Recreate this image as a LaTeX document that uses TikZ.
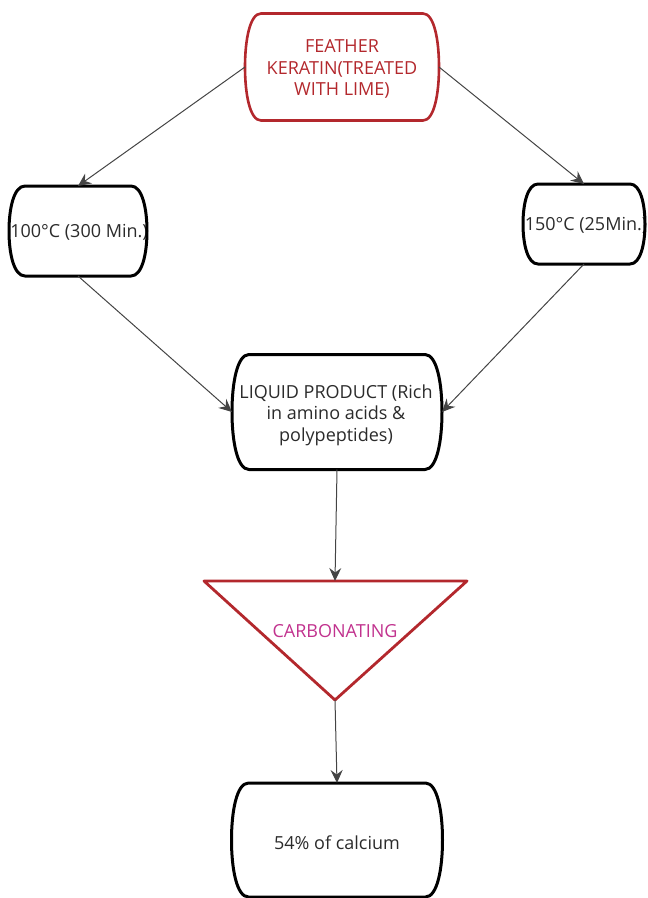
\documentclass[tikz,border=0pt]{standalone}
\usepackage{fontspec}
\setmainfont{Open Sans}
\usetikzlibrary{arrows.meta,calc}
\definecolor{kred}{HTML}{B3282D}
\definecolor{kmag}{HTML}{C1328E}
\definecolor{ktext}{HTML}{2B2B2B}
\definecolor{kline}{HTML}{444444}
\newcommand{\barrelshape}[3]{%
  \draw[#3] ([xshift=#2pt]#1.north west) -- ([xshift=-#2pt]#1.north east)
    .. controls ([xshift=-0.3*#2pt]#1.north east) and ($(#1.north east)!0.25!(#1.south east)$) .. (#1.east)
    .. controls ($(#1.north east)!0.75!(#1.south east)$) and ([xshift=-0.3*#2pt]#1.south east) .. ([xshift=-#2pt]#1.south east)
    -- ([xshift=#2pt]#1.south west)
    .. controls ([xshift=0.3*#2pt]#1.south west) and ($(#1.north west)!0.75!(#1.south west)$) .. (#1.west)
    .. controls ($(#1.north west)!0.25!(#1.south west)$) and ([xshift=0.3*#2pt]#1.north west) .. cycle;}
\tikzset{
  box/.style={rectangle, draw=none, inner sep=0pt, outer sep=0pt},
  txt/.style={inner sep=0pt, outer sep=0pt, align=center,
    font=\fontsize{18}{21.5}\selectfont, text=ktext},
  blackedge/.style={line width=3pt, black, line join=round},
  rededge/.style={line width=2.6pt, kred, line join=round},
  conn/.style={line width=1pt, kline, -{Stealth[length=13pt,width=12pt,inset=4.5pt]}}
}
\begin{document}
\begin{tikzpicture}[x=1pt,y=-1pt]
\useasboundingbox (0,0) rectangle (648,898);
\node[box, minimum width=194pt, minimum height=107pt] (top) at (342,67) {};
\node[box, minimum width=138pt, minimum height=90pt] (left) at (78,231) {};
\node[box, minimum width=122pt, minimum height=80pt] (right) at (584,224) {};
\node[box, minimum width=210pt, minimum height=115pt] (liq) at (337,412) {};
\node[box, minimum width=211pt, minimum height=114pt] (bot) at (337,840) {};
\coordinate (tritop) at (335,581);
\coordinate (trileft) at (204,581);
\coordinate (triright) at (467,581);
\coordinate (tribot) at (335,700);

\node[txt, text=kred] (toptext) at (342,69) {FEATHER\\KERATIN(TREATED\\WITH LIME)};
\node[txt] (lefttext) at (79,232) {100°C (300 Min.)};
\node[txt] (righttext) at (586,225) {150°C (25Min.)};
\node[txt] (liqtext) at (336,415) {LIQUID PRODUCT (Rich\\in amino acids \&\\polypeptides)};
\node[txt] (bottext) at (337,843) {54\% of calcium};
\node[txt, text=kmag] (carb) at (335,631) {CARBONATING};

\barrelshape{top}{16}{rededge}
\barrelshape{left}{16}{blackedge}
\barrelshape{right}{15}{blackedge}
\barrelshape{liq}{17}{blackedge}
\barrelshape{bot}{17}{blackedge}
\draw[rededge, line width=2.8pt] (trileft) -- (triright) -- (tribot) -- cycle;

\draw[conn] (top.west) -- (left.north);
\draw[conn] (top.east) -- (right.north);
\draw[conn] (left.south) -- (liq.west);
\draw[conn] (right.south) -- (liq.east);
\draw[conn] (liq.south) -- (tritop);
\draw[conn] (tribot) -- (bot.north);
\end{tikzpicture}
\end{document}
